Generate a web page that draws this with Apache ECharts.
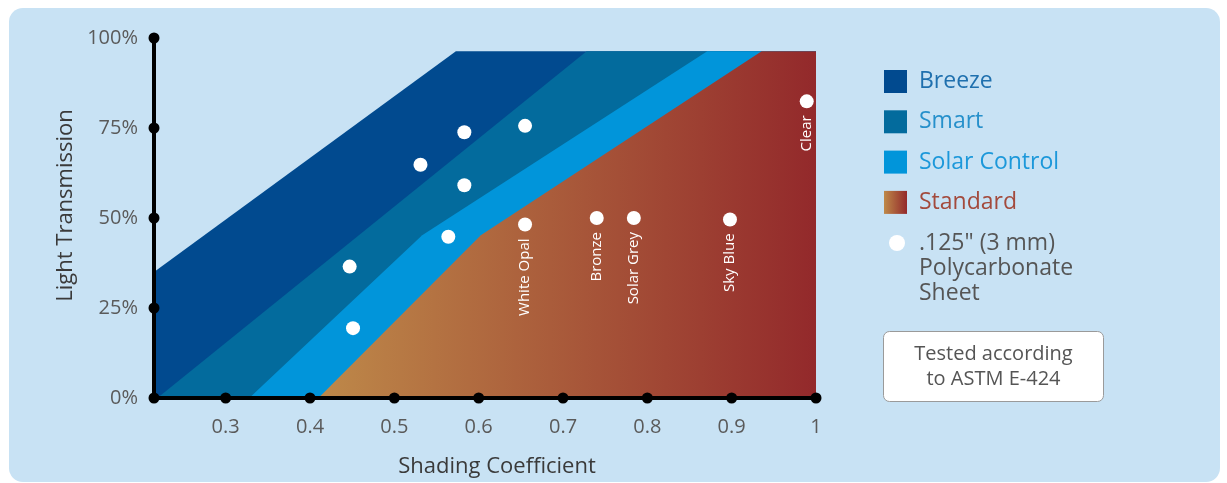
<!DOCTYPE html>
<html><head><meta charset="utf-8">
<script src="https://cdn.jsdelivr.net/npm/echarts@6/dist/echarts.min.js"></script>
<style>
html,body{margin:0;padding:0;background:#fff;overflow:hidden;}
#panel{position:absolute;left:9px;top:8px;width:1211px;height:474px;background:#C8E2F4;border-radius:14px;}
#chart{position:absolute;left:0;top:0;width:1227px;height:483px;}
</style></head><body>
<div id="panel"></div><div id="chart"></div>
<script>
// ---- data ----
const xTickValues = [0.3, 0.4, 0.5, 0.6, 0.7, 0.8, 0.9, 1];
const yTickValues = [0, 25, 50, 75, 100];
const xMin = 0.215, xMax = 1;

const breezeX = [0.215, 0.573, 1.0];
const breezeY = [35, 96.3, 96.3];
const smartX = [0.219, 0.728, 1.0];
const smartY = [0, 96.3, 96.3];
const solarX = [0.328, 0.533, 0.871, 1.0];
const solarY = [0, 45.2, 96.3, 96.3];
const standardX = [0.41, 0.6025, 0.9355, 1.0];
const standardY = [0, 45.2, 96.3, 96.3];

const sheetX = [0.447, 0.451, 0.531, 0.583, 0.583, 0.564, 0.655, 0.655, 0.740, 0.784, 0.898, 0.989];
const sheetY = [36.5, 19.4, 64.8, 73.8, 59.1, 44.8, 75.6, 48.2, 50.0, 50.0, 49.6, 82.4];
const sheetNames = ['', '', '', '', '', '', '', 'White Opal', 'Bronze', 'Solar Grey', 'Sky Blue', 'Clear'];

const seriesNames = ['Breeze', 'Smart', 'Solar Control', 'Standard'];
const sheetLegendName = '.125" (3 mm)\nPolycarbonate\nSheet';
const noteLines = ['Tested according', 'to ASTM E-424'];

// ---- build ----
const FONT = '"Open Sans", "Noto Sans", sans-serif';
const zip = (xs, ys) => xs.map((x, i) => [x, ys[i]]);
const standardGrad = new echarts.graphic.LinearGradient(0, 0, 1, 0, [
  { offset: 0, color: '#BE8949' }, { offset: 1, color: '#93292B' }
]);
const areaColors = ['#014A8F', '#036B9D', '#0195DA', standardGrad];
const legendTextColors = ['#1F70AE', '#2690CB', '#1C98DA', '#A34A3C'];
const areaData = [zip(breezeX, breezeY), zip(smartX, smartY), zip(solarX, solarY), zip(standardX, standardY)];

const areaSeries = seriesNames.map((n, i) => ({
  name: n, type: 'line', data: areaData[i], symbol: 'none', silent: true,
  lineStyle: { width: 0 }, itemStyle: { color: areaColors[i] },
  areaStyle: { color: areaColors[i], opacity: 1 }, z: 2 + i * 0.1
}));

const dotData = xTickValues.map(v => [v, 0]).concat(yTickValues.map(v => [xMin, v]));

const chart = echarts.init(document.getElementById('chart'), null, { renderer: 'canvas' });
chart.setOption({
  animation: false,
  textStyle: { fontFamily: FONT },
  grid: { left: 154, top: 38, width: 662, height: 360, containLabel: false },
  xAxis: {
    type: 'value', min: xMin, max: xMax, z: 10,
    name: 'Shading Coefficient', nameLocation: 'middle', nameGap: 58,
    nameTextStyle: { fontSize: 22, color: '#3a3a3a', fontFamily: FONT, padding: [0, 0, 0, 24] },
    axisLine: { show: true, lineStyle: { color: '#000', width: 4 } },
    axisTick: { show: false },
    splitLine: { show: false },
    axisLabel: { customValues: xTickValues, formatter: v => String(+v.toFixed(2)), fontSize: 20, color: '#5a5a5a', margin: 19, fontFamily: FONT }
  },
  yAxis: {
    type: 'value', min: 0, max: 100, interval: 25, z: 10,
    name: 'Light Transmission', nameLocation: 'middle', nameGap: 74,
    nameTextStyle: { fontSize: 22, color: '#3a3a3a', fontFamily: FONT, padding: [0, 0, 0, 25] },
    axisLine: { show: true, lineStyle: { color: '#000', width: 4 } },
    axisTick: { show: false },
    splitLine: { show: false },
    axisLabel: { formatter: '{value}%', fontSize: 20, color: '#5a5a5a', margin: 16, fontFamily: FONT }
  },
  legend: [
    {
      data: seriesNames.map((n, i) => ({ name: n, textStyle: { color: legendTextColors[i] } })),
      orient: 'vertical', left: 884, top: 70, padding: 0, itemWidth: 23, itemHeight: 23, itemGap: 17.3,
      icon: 'rect', selectedMode: false,
      textStyle: { fontSize: 23, lineHeight: 23, fontFamily: FONT, padding: [0, 0, 0, 7] }
    },
    {
      data: [{ name: sheetLegendName, icon: 'circle', itemStyle: { color: '#fff', opacity: 1 } }],
      orient: 'vertical', left: 889, top: 180.5, padding: 0, itemWidth: 16, itemHeight: 16,
      selectedMode: false,
      formatter: n => '\n\n' + n,
      textStyle: { fontSize: 23, lineHeight: 25, color: '#555', fontFamily: FONT, padding: [0, 0, 0, 9] }
    }
  ],
  series: areaSeries.concat([
    {
      name: sheetLegendName, type: 'scatter', symbol: 'circle', symbolSize: 14, z: 5, silent: true,
      itemStyle: { color: '#fff', opacity: 1 },
      data: sheetX.map((x, i) => ({
        value: [x, sheetY[i]], name: sheetNames[i],
        label: { show: !!sheetNames[i] }
      })),
      label: {
        position: 'bottom', rotate: 90, align: 'right', verticalAlign: 'middle', distance: 7,
        formatter: p => p.name, color: '#fff', fontSize: 15, fontFamily: FONT
      }
    },
    {
      name: 'axisDots', type: 'scatter', symbol: 'circle', symbolSize: 11, z: 20, silent: true,
      clip: false, itemStyle: { color: '#000', opacity: 1 }, data: dotData
    }
  ]),
  graphic: [
    {
      type: 'group', left: 883, top: 331,
      children: [
        { type: 'rect', shape: { x: 0, y: 0, width: 220, height: 70, r: 6 }, style: { fill: '#fff', stroke: '#9a9a9a', lineWidth: 1 } },
        { type: 'text', x: 110, y: 35, style: { text: noteLines.join('\n'), align: 'center', verticalAlign: 'middle', fontSize: 20, lineHeight: 25, fill: '#555', fontFamily: FONT } }
      ]
    }
  ]
});
</script>
</body></html>
